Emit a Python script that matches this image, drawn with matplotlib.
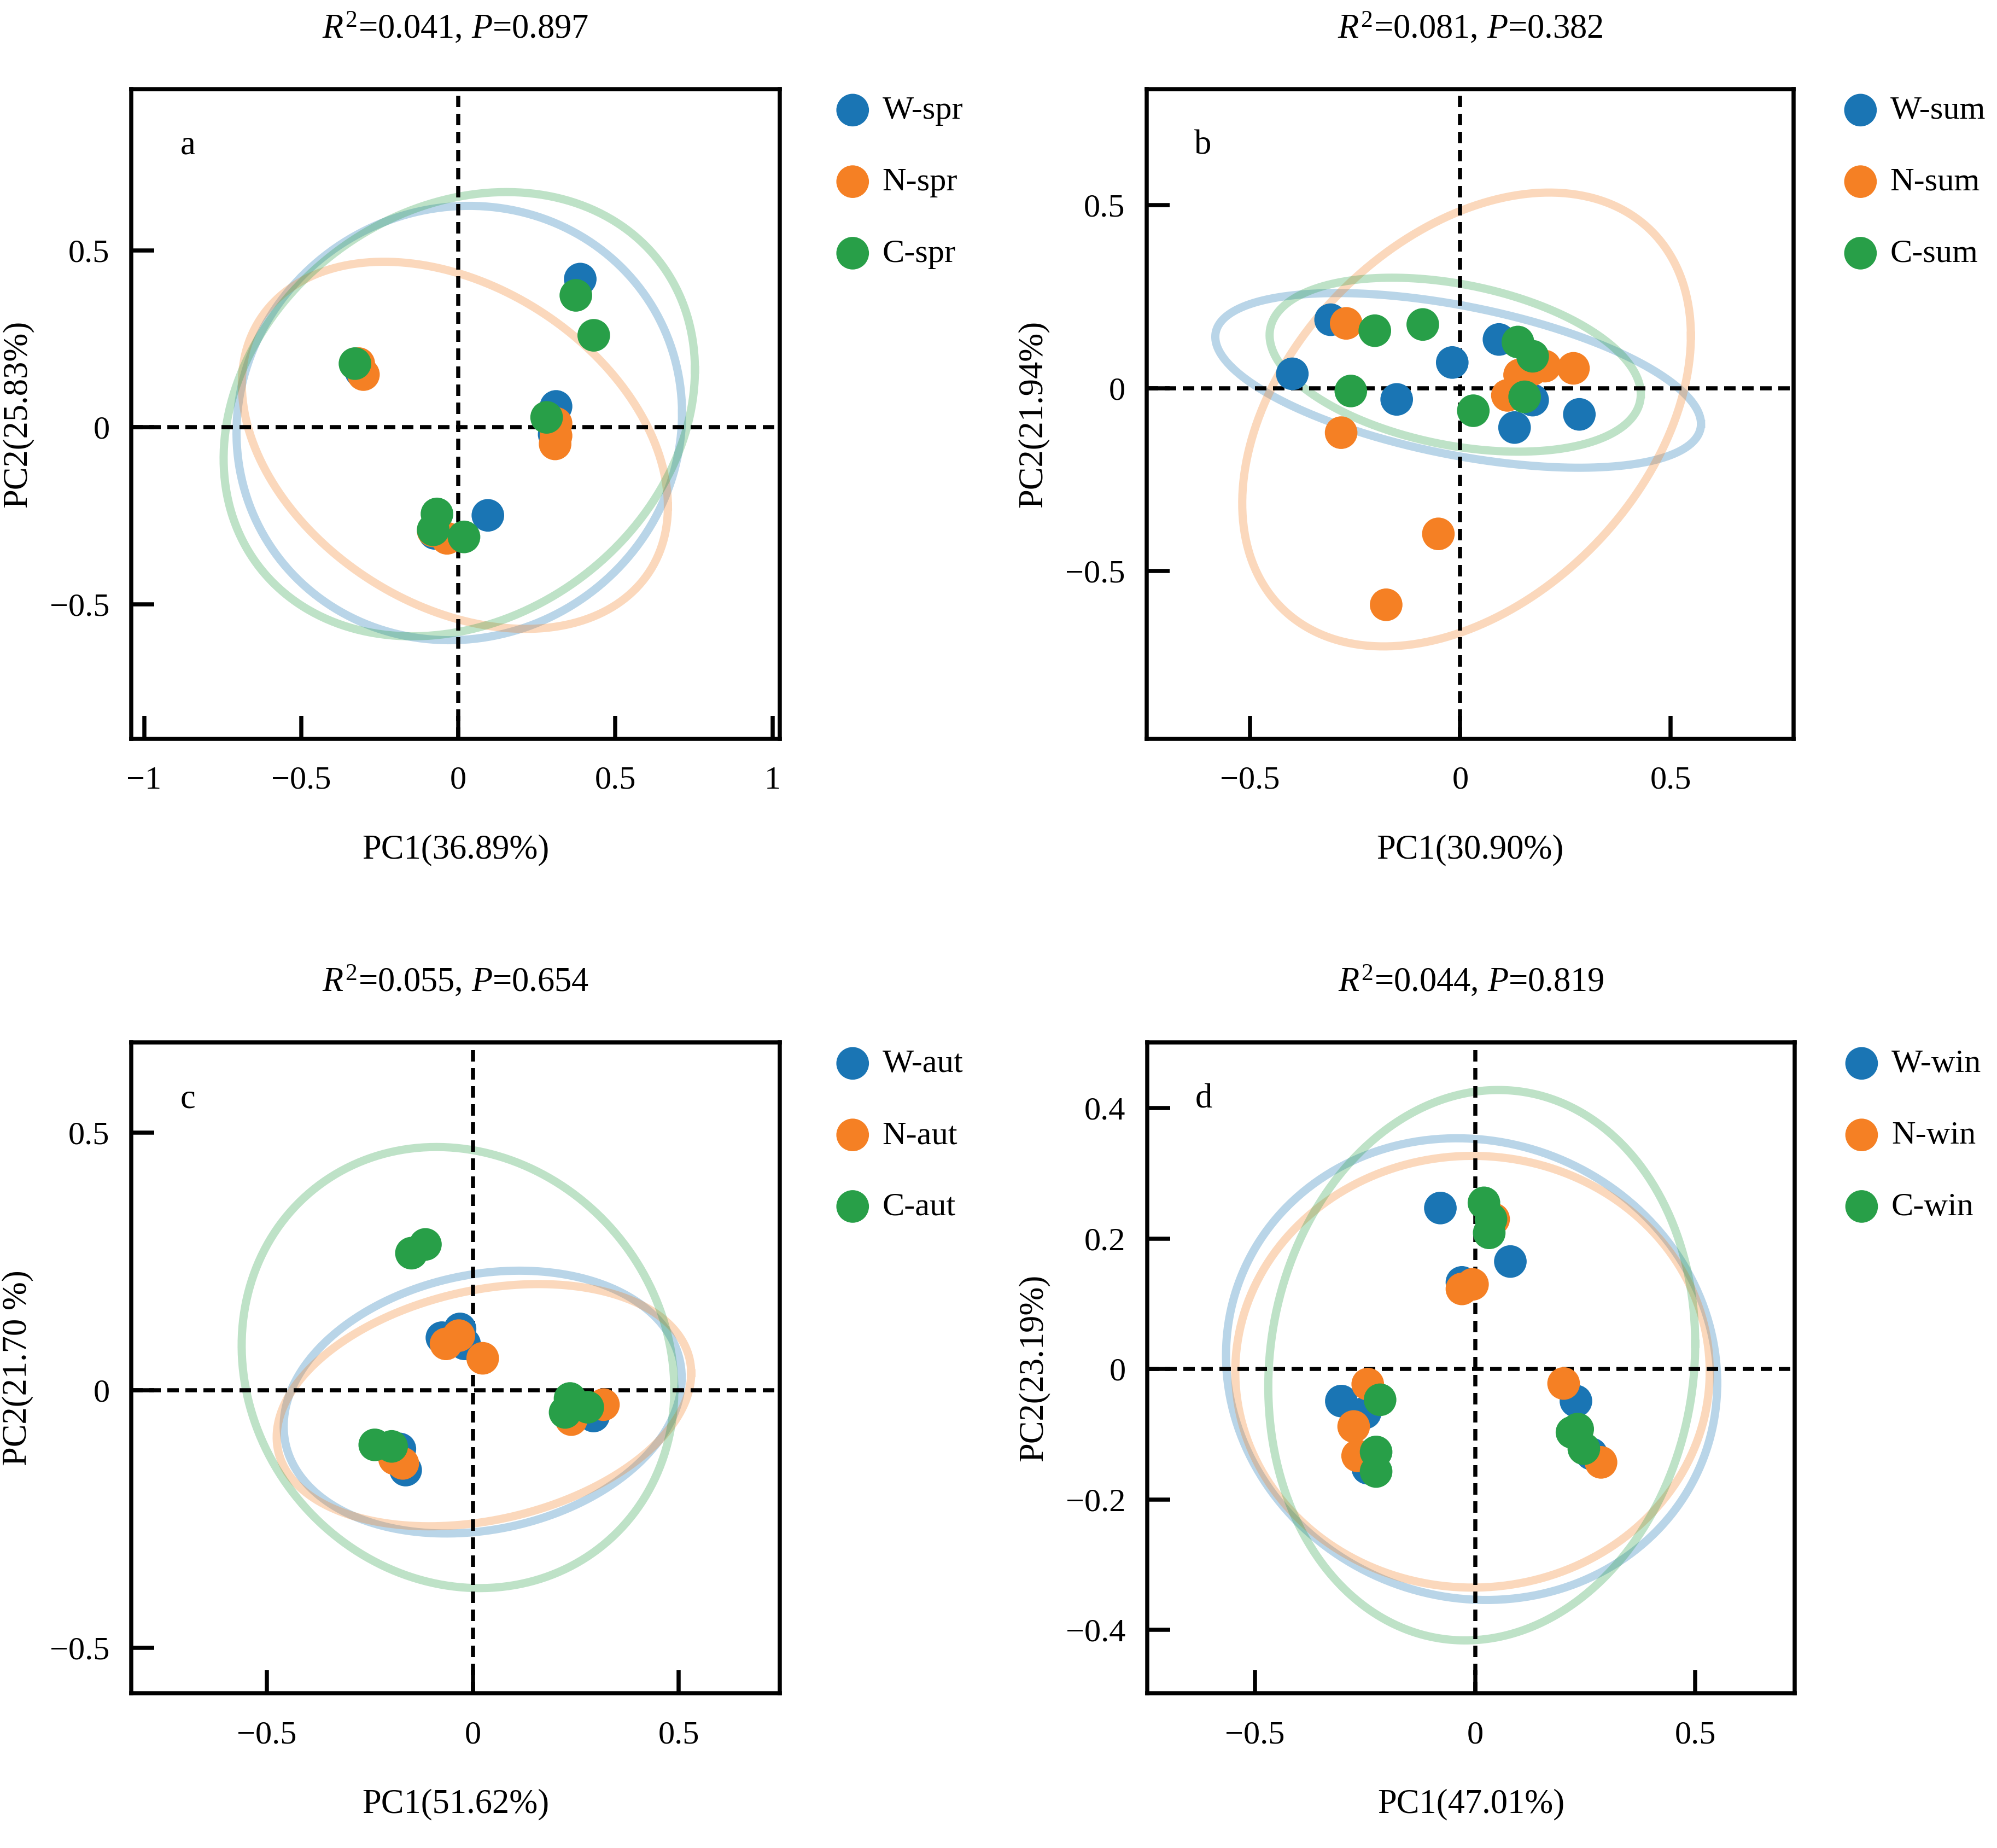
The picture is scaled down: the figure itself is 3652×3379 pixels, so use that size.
import numpy as np
import matplotlib
matplotlib.use("Agg")
import matplotlib.pyplot as plt
from matplotlib.ticker import FuncFormatter

plt.rcParams["font.family"] = ["Liberation Serif", "DejaVu Serif"]
plt.rcParams["mathtext.fontset"] = "custom"
plt.rcParams["mathtext.rm"] = "Liberation Serif"
plt.rcParams["mathtext.it"] = "Liberation Serif:italic"

colors = {"W": "#1a75b4", "N": "#f58024", "C": "#289f48"}
groups = ["W", "N", "C"]

# --- data ---
panel_letters = ["a", "b", "c", "d"]
seasons = ["spr", "sum", "aut", "win"]
titles = [r"$\mathit{R}^{2}$=0.041, $\mathit{P}$=0.897",
          r"$\mathit{R}^{2}$=0.081, $\mathit{P}$=0.382",
          r"$\mathit{R}^{2}$=0.055, $\mathit{P}$=0.654",
          r"$\mathit{R}^{2}$=0.044, $\mathit{P}$=0.819"]
xlabels = ["PC1(36.89%)", "PC1(30.90%)", "PC1(51.62%)", "PC1(47.01%)"]
ylabels = ["PC2(25.83%)", "PC2(21.94%)", "PC2(21.70 %)", "PC2(23.19%)"]

xlims = [(-1.041, 1.023), (-0.745, 0.792), (-0.829, 0.745), (-0.745, 0.726)]
ylims = [(-0.881, 0.956), (-0.96, 0.818), (-0.588, 0.675), (-0.497, 0.501)]
xticks = [[-1, -0.5, 0, 0.5, 1], [-0.5, 0, 0.5], [-0.5, 0, 0.5], [-0.5, 0, 0.5]]
yticks = [[-0.5, 0, 0.5], [-0.5, 0, 0.5], [-0.5, 0, 0.5], [-0.4, -0.2, 0, 0.2, 0.4]]

spr_x = {"W": [0.388, 0.311, 0.094, -0.310, -0.075, 0.305],
         "N": [-0.317, -0.302, 0.311, 0.311, 0.308, -0.080, -0.036],
         "C": [0.374, 0.431, -0.329, 0.281, -0.068, -0.080, 0.018]}
spr_y = {"W": [0.419, 0.059, -0.249, 0.158, -0.300, -0.020],
         "N": [0.180, 0.149, 0.011, -0.024, -0.047, -0.293, -0.314],
         "C": [0.373, 0.260, 0.180, 0.028, -0.245, -0.290, -0.310]}

sum_x = {"W": [-0.308, -0.399, -0.151, -0.019, 0.092, 0.172, 0.129, 0.283],
         "N": [-0.271, -0.283, -0.052, -0.176, 0.112, 0.141, 0.201, 0.269, 0.170],
         "C": [-0.203, -0.089, -0.260, 0.031, 0.137, 0.172, 0.153]}
sum_y = {"W": [0.187, 0.039, -0.031, 0.070, 0.133, -0.033, -0.108, -0.072],
         "N": [0.177, -0.122, -0.399, -0.593, -0.020, 0.036, 0.060, 0.054, 0.050],
         "C": [0.157, 0.174, -0.008, -0.062, 0.126, 0.087, -0.024]}

aut_x = {"W": [-0.031, -0.075, -0.020, 0.293, -0.177, -0.163],
         "N": [-0.065, -0.034, 0.024, 0.239, 0.317, -0.190, -0.170],
         "C": [-0.149, -0.115, 0.236, 0.224, 0.279, -0.238, -0.197]}
aut_y = {"W": [0.119, 0.102, 0.090, -0.050, -0.114, -0.155],
         "N": [0.090, 0.106, 0.062, -0.057, -0.028, -0.133, -0.142],
         "C": [0.266, 0.283, -0.016, -0.043, -0.033, -0.106, -0.109]}

win_x = {"W": [-0.079, 0.080, -0.030, -0.304, -0.250, -0.244, 0.229, 0.264],
         "N": [0.042, -0.030, -0.006, -0.244, -0.276, -0.267, 0.201, 0.286],
         "C": [0.020, 0.036, 0.032, -0.216, -0.225, -0.225, 0.233, 0.220, 0.247]}
win_y = {"W": [0.247, 0.165, 0.133, -0.049, -0.067, -0.152, -0.049, -0.130],
         "N": [0.230, 0.123, 0.130, -0.023, -0.088, -0.133, -0.022, -0.143],
         "C": [0.255, 0.230, 0.209, -0.047, -0.127, -0.157, -0.092, -0.097, -0.122]}

# ellipses: centre x, centre y, half width, half height, sin(phase)
spr_ell = {"W": (0.003, 0.012, 0.709, 0.614, 0.044),
           "N": (-0.011, -0.051, 0.678, 0.519, -0.333),
           "C": (0.003, 0.037, 0.750, 0.628, 0.20)}
sum_ell = {"W": (-0.005, 0.021, 0.577, 0.239, -0.498),
           "N": (0.015, -0.086, 0.533, 0.621, 0.369),
           "C": (-0.012, 0.064, 0.441, 0.238, -0.34)}
aut_ell = {"W": (0.024, -0.023, 0.483, 0.255, 0.184),
           "N": (0.027, -0.029, 0.503, 0.235, 0.264),
           "C": (-0.036, 0.044, 0.525, 0.428, -0.10)}
win_ell = {"W": (-0.008, 0.0, 0.558, 0.354, -0.06),
           "N": (-0.006, -0.004, 0.539, 0.331, 0.0),
           "C": (0.015, 0.006, 0.485, 0.422, 0.078)}

all_x = [spr_x, sum_x, aut_x, win_x]
all_y = [spr_y, sum_y, aut_y, win_y]
all_ell = [spr_ell, sum_ell, aut_ell, win_ell]

# --- figure ---
W, H = 3653, 3379
fig = plt.figure(figsize=(W / 300, H / 300), dpi=300)

# axes boxes in pixels: left, top, right, bottom
boxes = [(240, 163, 1426, 1351), (2097, 163, 3280, 1351),
         (240, 1906, 1426, 3096), (2098, 1906, 3282, 3096)]
legend_x = [1.092, 1.083, 1.092, 1.083]

fmt = FuncFormatter(lambda v, p: ("%g" % v).replace("-", "\u2212"))
t = np.linspace(0, 2 * np.pi, 400)

for i in range(4):
    l, tp, r, b = boxes[i]
    ax = fig.add_axes([l / W, 1 - b / H, (r - l) / W, (b - tp) / H])

    for g in groups:
        cx, cy, wx, hy, s = all_ell[i][g]
        phi = np.arcsin(s)
        ax.plot(cx + wx * np.cos(t), cy + hy * np.sin(t + phi),
                color=colors[g], alpha=0.3, lw=3.6, zorder=1)

    ax.axhline(0, color="black", lw=1.8, ls=(0, (2.8, 1.6)), zorder=2)
    ax.axvline(0, color="black", lw=1.8, ls=(0, (2.8, 1.6)), zorder=2)

    for g in groups:
        ax.scatter(all_x[i][g], all_y[i][g], s=205, color=colors[g],
                   edgecolors="none", zorder=3, label=f"{g}-{seasons[i]}")

    ax.set_xlim(*xlims[i])
    ax.set_ylim(*ylims[i])
    ax.set_xticks(xticks[i])
    ax.set_yticks(yticks[i])
    ax.xaxis.set_major_formatter(fmt)
    ax.yaxis.set_major_formatter(fmt)
    ax.tick_params(direction="in", length=10, width=1.8, labelsize=14.5)
    ax.tick_params(axis="x", pad=12)
    ax.tick_params(axis="y", pad=9.5)
    for sp in ax.spines.values():
        sp.set_linewidth(1.8)

    ax.set_xlabel(xlabels[i], fontsize=15, labelpad=17)
    ax.set_ylabel(ylabels[i], fontsize=15, labelpad=7)
    ax.set_title(titles[i], fontsize=15, pad=22.5)
    ax.text(0.087, 0.90, panel_letters[i], transform=ax.transAxes,
            fontsize=15, ha="center", va="baseline")

    ax.legend(loc="upper left", bbox_to_anchor=(legend_x[i], 0.99),
              frameon=False, fontsize=14.5, borderaxespad=0, borderpad=0,
              handlelength=0.8, handletextpad=0.5, labelspacing=1.25)

fig.savefig("out.png", dpi=300)
